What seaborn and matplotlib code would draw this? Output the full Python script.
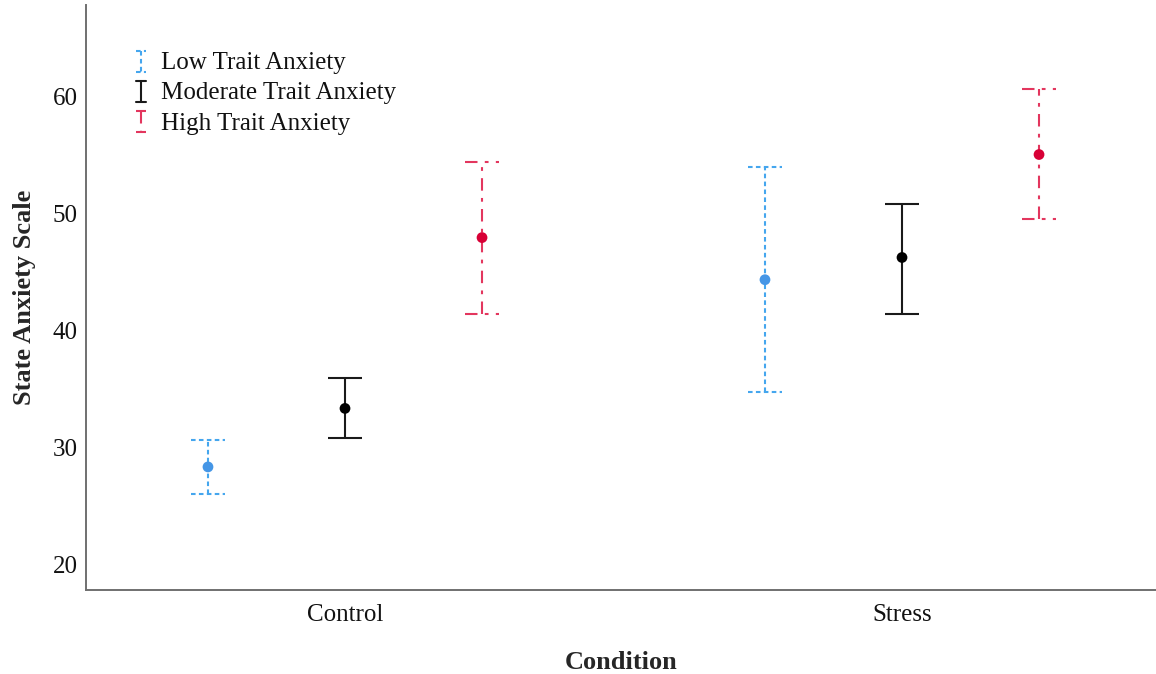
import numpy as np
import pandas as pd
import seaborn as sns
import matplotlib
matplotlib.use("Agg")
import matplotlib.pyplot as plt
from matplotlib.legend_handler import HandlerBase
from matplotlib.lines import Line2D

# ---- data ----
conditions = ["Control", "Stress"]
groups = ["Low Trait Anxiety", "Moderate Trait Anxiety", "High Trait Anxiety"]

low_mean = [28.3, 44.3]
low_lower = [26.0, 34.7]
low_upper = [30.6, 53.9]

mod_mean = [33.3, 46.2]
mod_lower = [30.8, 41.4]
mod_upper = [35.9, 50.8]

high_mean = [47.9, 55.0]
high_lower = [41.4, 49.5]
high_upper = [54.4, 60.6]

# ---- styling ----
sns.set_theme(style="white")
plt.rcParams["font.family"] = ["Liberation Serif", "DejaVu Serif"]

line_colors = {"Low Trait Anxiety": "#45A6EE",
               "Moderate Trait Anxiety": "#1a1a1a",
               "High Trait Anxiety": "#E3365E"}
marker_colors = {"Low Trait Anxiety": "#4596E6",
                 "Moderate Trait Anxiety": "#000000",
                 "High Trait Anxiety": "#D80036"}
line_styles = {"Low Trait Anxiety": (0, (2.2, 1.6)),
               "Moderate Trait Anxiety": "-",
               "High Trait Anxiety": (0, (6.0, 3.5, 1.8, 3.5))}
offsets = {"Low Trait Anxiety": -0.246,
           "Moderate Trait Anxiety": 0.0,
           "High Trait Anxiety": 0.246}

rows = []
for g, m, lo, hi in zip(groups,
                        [low_mean, mod_mean, high_mean],
                        [low_lower, mod_lower, high_lower],
                        [low_upper, mod_upper, high_upper]):
    for i, c in enumerate(conditions):
        rows.append(dict(condition=c, group=g, mean=m[i], lower=lo[i], upper=hi[i],
                         x=i + offsets[g]))
df = pd.DataFrame(rows)

fig = plt.figure(figsize=(11.56, 6.74), dpi=100)
ax = fig.add_axes([86 / 1156, 1 - 590 / 674, 1070 / 1156, 585 / 674])

cap_half = 0.03
lw = 1.5
for g in groups:
    sub = df[df.group == g]
    ax.vlines(sub.x, sub.lower, sub.upper, colors=line_colors[g],
              linestyles=[line_styles[g]], linewidth=lw, zorder=2)
    ax.hlines(sub.lower, sub.x - cap_half, sub.x + cap_half, colors=line_colors[g],
              linestyles=[line_styles[g]], linewidth=lw, zorder=2)
    ax.hlines(sub.upper, sub.x - cap_half, sub.x + cap_half, colors=line_colors[g],
              linestyles=[line_styles[g]], linewidth=lw, zorder=2)

sns.scatterplot(data=df, x="x", y="mean", hue="group", palette=marker_colors,
                s=60, edgecolor="none", legend=False, ax=ax, zorder=3)

ax.set_xlim(-0.465, 1.456)
ax.set_ylim(17.78, 67.78)
ax.set_xticks(range(len(conditions)))
ax.set_xticklabels(conditions)
ax.set_yticks([20, 30, 40, 50, 60])
ax.tick_params(axis="both", length=0, labelsize=18, colors="#111111")
ax.tick_params(axis="x", pad=10)
ax.tick_params(axis="y", pad=6)

ax.set_xlabel("Condition", fontsize=19, fontweight="bold", labelpad=18)
ax.set_ylabel("State Anxiety Scale", fontsize=19, fontweight="bold", labelpad=12)

for s in ["top", "right"]:
    ax.spines[s].set_visible(False)
for s in ["left", "bottom"]:
    ax.spines[s].set_color("#707070")
    ax.spines[s].set_linewidth(1.4)


class IBarHandler(HandlerBase):
    def create_artists(self, legend, orig_handle, xdescent, ydescent,
                       width, height, fontsize, trans):
        cx = width / 2 - xdescent
        y0 = -ydescent - 0.15 * height
        y1 = height - ydescent + 0.05 * height
        cw = width * 0.32
        xs = [cx - cw, cx + cw, np.nan, cx, cx, np.nan, cx - cw, cx + cw]
        ys = [y1, y1, np.nan, y1, y0, np.nan, y0, y0]
        ln = Line2D(xs, ys)
        ln.update_from(orig_handle)
        ln.set_transform(trans)
        return [ln]


handles = [Line2D([], [], color=line_colors[g], linestyle=line_styles[g], linewidth=lw)
           for g in groups]
leg = ax.legend(handles, groups, handler_map={Line2D: IBarHandler()},
                loc="upper left", bbox_to_anchor=(0.035, 0.9376), frameon=False,
                fontsize=18, handlelength=0.6, handletextpad=0.5,
                labelspacing=0.31, borderaxespad=0)
for t in leg.get_texts():
    t.set_color("#111111")

fig.savefig("out.png", dpi=100)
